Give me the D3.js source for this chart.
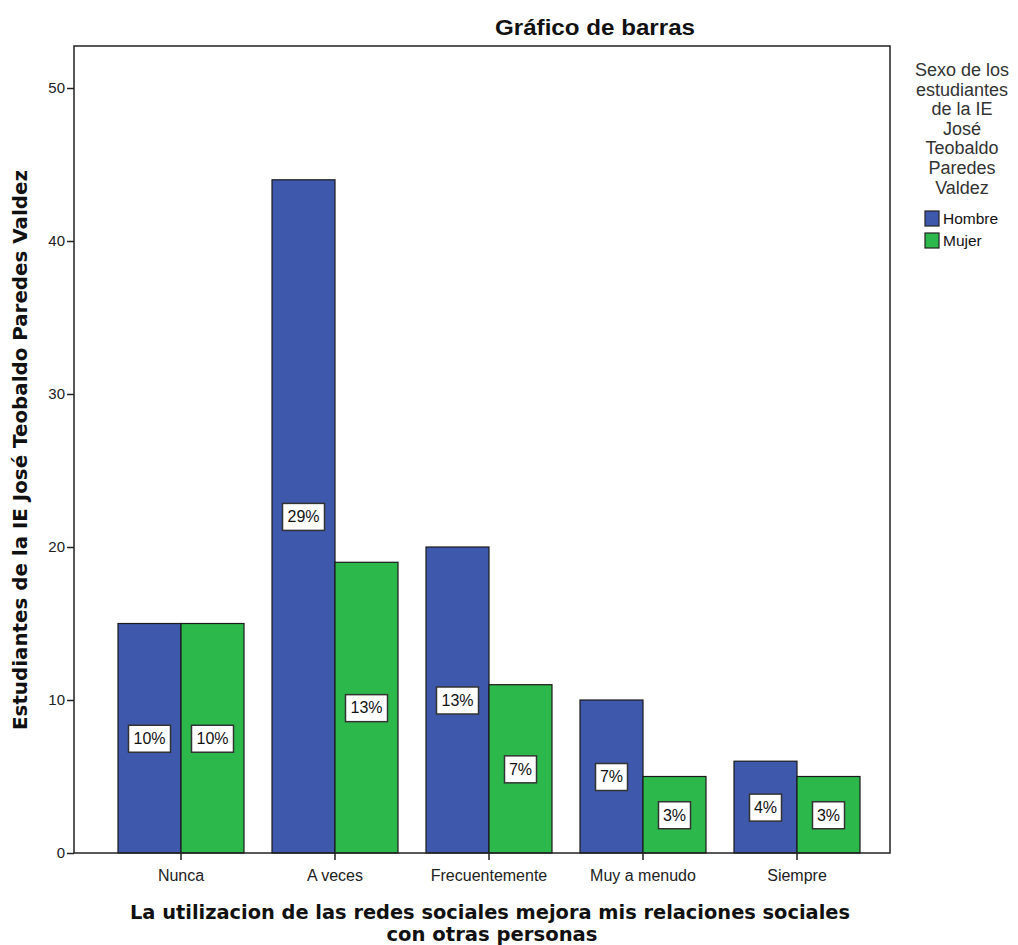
<!DOCTYPE html>
<html>
<head>
<meta charset="utf-8">
<script src="https://cdn.jsdelivr.net/npm/d3@7"></script>
<style>
  body { margin: 0; background: #fff; }
  text { font-family: "Liberation Sans", Arial, sans-serif; }
</style>
</head>
<body>
<svg width="1018" height="945"></svg>
<script>
// data
var categories = ["Nunca", "A veces", "Frecuentemente", "Muy a menudo", "Siempre"];
var series = ["Hombre", "Mujer"];
var hombre = [15, 44, 20, 10, 6];
var mujer  = [15, 19, 11, 5, 5];
var pctHombre = ["10%", "29%", "13%", "7%", "4%"];
var pctMujer  = ["10%", "13%", "7%", "3%", "3%"];
var yTicks = [0, 10, 20, 30, 40, 50];
var colors = ["#3e58ac", "#2db84b"];
var legendTitle = ["Sexo de los", "estudiantes", "de la IE", "José", "Teobaldo", "Paredes", "Valdez"];

var svg = d3.select("svg");
var pl = 74, pr = 890, pt = 46, pb = 853;   // plot frame

var y = d3.scaleLinear().domain([0, 50]).range([pb, 88]);
var x = d3.scaleBand().domain(categories).range([118, 860]).paddingInner(28 / 154).paddingOuter(0);
var xs = d3.scaleBand().domain(series).range([0, x.bandwidth()]);

// bars
var rows = [];
categories.forEach(function(c, i) {
    rows.push({ cat: c, s: "Hombre", v: hombre[i], p: pctHombre[i], col: colors[0] });
    rows.push({ cat: c, s: "Mujer", v: mujer[i], p: pctMujer[i], col: colors[1] });
});

svg.append("g").selectAll("rect").data(rows).enter().append("rect")
    .attr("x", d => x(d.cat) + xs(d.s))
    .attr("y", d => y(d.v))
    .attr("width", xs.bandwidth())
    .attr("height", d => pb - y(d.v))
    .attr("fill", d => d.col)
    .attr("stroke", "#1a1a1a").attr("stroke-width", 1.2);

// frame
svg.append("rect")
    .attr("x", pl).attr("y", pt)
    .attr("width", pr - pl).attr("height", pb - pt)
    .attr("fill", "none").attr("stroke", "#222").attr("stroke-width", 1.5);

// axes
var gy = svg.append("g").attr("transform", "translate(" + pl + ",0)")
    .call(d3.axisLeft(y).tickValues(yTicks).tickSize(7).tickSizeOuter(0).tickPadding(2));
gy.select(".domain").remove();
gy.selectAll("text").attr("font-size", 15).attr("fill", "#222")
    .style("font-family", "Liberation Sans, Arial, sans-serif");
gy.selectAll("line").attr("stroke", "#222").attr("stroke-width", 1.5);

var gx = svg.append("g").attr("transform", "translate(0," + pb + ")")
    .call(d3.axisBottom(x).tickSize(7).tickSizeOuter(0).tickPadding(10));
gx.select(".domain").remove();
gx.selectAll("text").attr("font-size", 16).attr("fill", "#222")
    .style("font-family", "Liberation Sans, Arial, sans-serif");
gx.selectAll("line").attr("stroke", "#222").attr("stroke-width", 1.5);

// percentage labels
var lab = svg.append("g").selectAll("g").data(rows).enter().append("g")
    .attr("transform", d => "translate(" + (x(d.cat) + xs(d.s) + xs.bandwidth() / 2) + "," + y(d.v / 2) + ")");
lab.append("rect")
    .attr("x", d => d.p.length > 2 ? -21 : -16)
    .attr("width", d => d.p.length > 2 ? 42 : 32)
    .attr("y", -13).attr("height", 27)
    .attr("fill", "#fff").attr("stroke", "#333").attr("stroke-width", 1.5);
lab.append("text").attr("text-anchor", "middle").attr("dy", "0.36em")
    .attr("font-size", 16).attr("fill", "#111").text(d => d.p);

// titles
svg.append("text").attr("x", 595).attr("y", 35).attr("text-anchor", "middle")
    .attr("font-size", 22).attr("font-weight", "bold").attr("fill", "#111")
    .attr("textLength", 200).attr("lengthAdjust", "spacingAndGlyphs")
    .text("Gráfico de barras");

var axTitle = function(sel) {
    sel.attr("text-anchor", "middle")
        .style("font-family", "DejaVu Sans, sans-serif")
        .attr("font-size", 19).attr("font-weight", "bold").attr("fill", "#111")
        .attr("lengthAdjust", "spacingAndGlyphs");
};

svg.append("text").call(axTitle)
    .attr("transform", "translate(27,450) rotate(-90)")
    .attr("textLength", 560)
    .text("Estudiantes de la IE José Teobaldo Paredes Valdez");

svg.append("text").call(axTitle).attr("x", 490).attr("y", 919)
    .attr("textLength", 720)
    .text("La utilizacion de las redes sociales mejora mis relaciones sociales");
svg.append("text").call(axTitle).attr("x", 492).attr("y", 941)
    .attr("textLength", 211)
    .text("con otras personas");

// legend
svg.append("g").selectAll("text").data(legendTitle).enter().append("text")
    .attr("x", 962).attr("y", (d, i) => 76 + i * 19.6)
    .attr("text-anchor", "middle").attr("font-size", 18).attr("fill", "#333")
    .text(d => d);

var leg = svg.append("g").selectAll("g").data(series).enter().append("g")
    .attr("transform", (d, i) => "translate(925," + (211 + i * 22) + ")");
leg.append("rect").attr("width", 14).attr("height", 15)
    .attr("fill", (d, i) => colors[i]).attr("stroke", "#222").attr("stroke-width", 1.2);
leg.append("text").attr("x", 18).attr("y", 13)
    .attr("font-size", 15.5).attr("fill", "#111").text(d => d);
</script>
</body>
</html>
